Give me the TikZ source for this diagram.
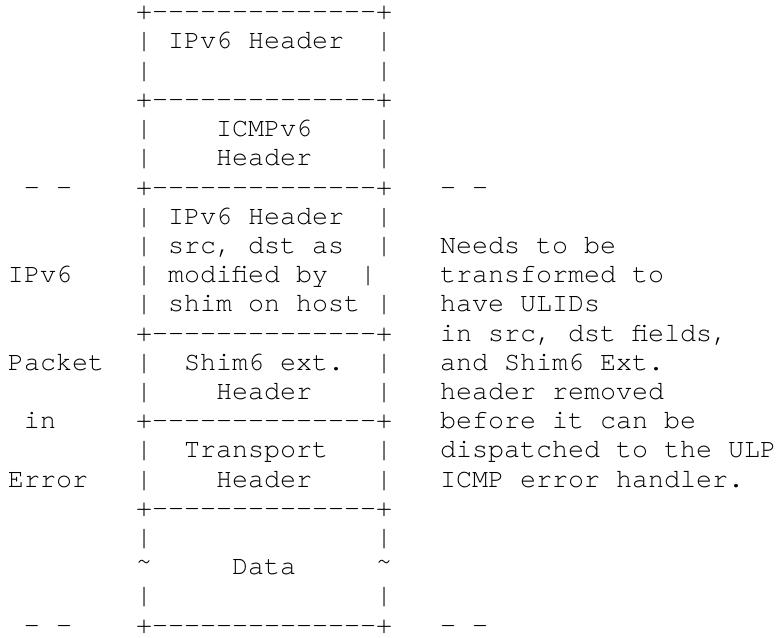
\documentclass[tikz,border=0pt]{standalone}
\usepackage{fontspec}
\setmonofont{TeX Gyre Cursor}

\begin{document}
\begin{tikzpicture}[x=16pt, y=-29.2pt,
                    every node/.style={anchor=base west, inner sep=0pt, outer sep=0pt,
                                       font=\ttfamily\fontsize{26.67}{29.2}\selectfont}]
                    \useasboundingbox (-0.5, -0.678) rectangle (48, 21.137);
                    % packet stack
                    \node (b0) at (8, 0) {+--------------+};
                    \node (b1) at (8, 1) {| IPv6 Header\ \ |};
                    \node (b2) at (8, 2) {|\ \ \ \ \ \ \ \ \ \ \ \ \ \ |};
                    \node (b3) at (8, 3) {+--------------+};
                    \node (b4) at (8, 4) {|\ \ \ \ ICMPv6\ \ \ \ |};
                    \node (b5) at (8, 5) {|\ \ \ \ Header\ \ \ \ |};
                    \node (b6) at (8, 6) {+--------------+};
                    \node (b7) at (8, 7) {| IPv6 Header\ \ |};
                    \node (b8) at (8, 8) {|\ src,\ dst\ as\ \ |};
                    \node (b9) at (8, 9) {|\ modified\ by\ \ |};
                    \node (b10) at (8, 10) {| shim on host |};
                    \node (b11) at (8, 11) {+--------------+};
                    \node (b12) at (8, 12) {|\ \ Shim6 ext.\ \ |};
                    \node (b13) at (8, 13) {|\ \ \ \ Header\ \ \ \ |};
                    \node (b14) at (8, 14) {+--------------+};
                    \node (b15) at (8, 15) {|\ \ Transport\ \ \ |};
                    \node (b16) at (8, 16) {|\ \ \ \ Header\ \ \ \ |};
                    \node (b17) at (8, 17) {+--------------+};
                    \node (b18) at (8, 18) {|\ \ \ \ \ \ \ \ \ \ \ \ \ \ |};
                    \node (b19) at (8, 19) {\raisebox{5pt}{\textasciitilde}\ \ \ \ \ Data\ \ \ \ \ \raisebox{5pt}{\textasciitilde}};
                    \node (b20) at (8, 20) {|\ \ \ \ \ \ \ \ \ \ \ \ \ \ |};
                    \node (b21) at (8, 21) {+--------------+};
                    % left side
                    \node (dashl1) at (1, 6) {- -};
                    \node (ipv6) at (0, 9) {IPv6};
                    \node (packet) at (0, 12) {Packet};
                    \node (in) at (1, 14) {in};
                    \node (error) at (0, 16) {Error};
                    \node (dashl2) at (1, 21) {- -};
                    % right side
                    \node (dashr1) at (27, 6) {- -};
                    \node (note1) at (27, 8) {Needs to be};
                    \node (note2) at (27, 9) {transformed to};
                    \node (note3) at (27, 10) {have ULIDs};
                    \node (note4) at (27, 11) {in src, dst fields,};
                    \node (note5) at (27, 12) {and Shim6 Ext.};
                    \node (note6) at (27, 13) {header removed};
                    \node (note7) at (27, 14) {before it can be};
                    \node (note8) at (27, 15) {dispatched to the ULP};
                    \node (note9) at (27, 16) {ICMP error handler.};
                    \node (dashr2) at (27, 21) {- -};
                \end{tikzpicture}
\end{document}
